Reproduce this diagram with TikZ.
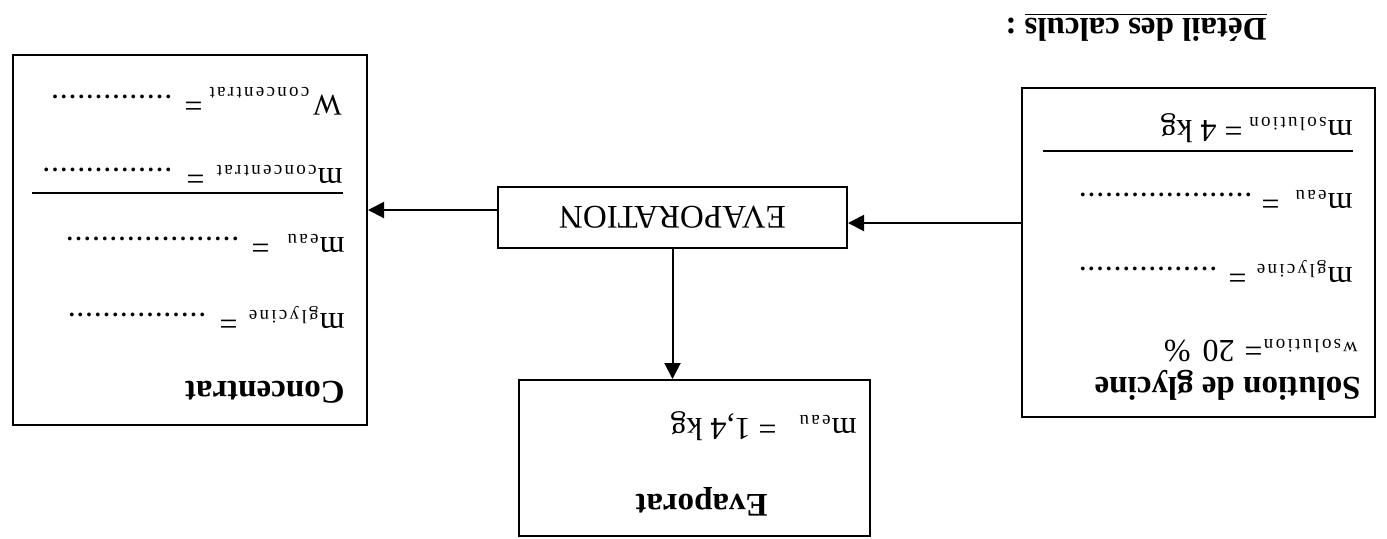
\documentclass[tikz,border=0pt]{standalone}
\usepackage{fontspec}
\setmainfont{Liberation Serif}
\usetikzlibrary{arrows.meta}
\newcommand\bodyf{\fontsize{16}{19}\selectfont}
\newcommand\headf{\fontsize{16.5}{20}\selectfont\bfseries}
\newcommand\subf[1]{{\fontsize{9.5}{11}\selectfont\addfontfeature{LetterSpace=12}#1}}
\newcommand\msub[2]{#1\hspace{0.6pt}\raisebox{-1.5pt}{\subf{#2}}}
\newcommand\dts[1]{\hbox to #1{\leaders\hbox to 4.35pt{\hss.\hss}\hfill}}
\begin{document}
\begin{tikzpicture}[x=0.5pt,y=-0.5pt,
  box/.style={draw, line width=1pt, inner sep=0pt},
  txt/.style={rotate=180, anchor=base west, inner sep=0pt, font=\bodyf},
  head/.style={rotate=180, anchor=base west, inner sep=0pt, font=\headf},
  arr/.style={line width=1pt, -{Triangle[length=8pt,width=8pt]}},
  rul/.style={line width=1pt}]
\useasboundingbox (0,0) rectangle (1387,538);
\fill[white] (0,0) rectangle (1387,538);
% boxes
\node[box, minimum width=176.5pt, minimum height=164.5pt] (sol) at (1198.5,252.5) {};
\node[box, minimum width=177pt, minimum height=185pt] (conc) at (190,240) {};
\node[box, minimum width=174.5pt, minimum height=30.5pt, font=\fontsize{16.5}{20}\selectfont] (evap) at (672.5,217.5) {\rotatebox{180}{EVAPORATION}};
\node[box, minimum width=175.5pt, minimum height=78pt] (evt) at (694.5,458) {};
% arrows
\draw[arr] ([yshift=14.75pt]sol.west) -- ([yshift=14.75pt]sol.west -| evap.east);
\draw[arr] ([yshift=3.75pt]evap.west) -- ([yshift=3.75pt]evap.west -| conc.east);
\draw[arr] (evap.south) -- (evap.south |- evt.north);
% header
\node[head] (det) at (1267,18) {\underline{Détail des calculs} :};
% solution box
\node[head] (solT) at (1361,377) {Solution de glycine};
\node[txt] (wsol) at (1358,342) {{\fontsize{10}{12}\selectfont w}\hspace{1pt}\raisebox{-1.5pt}{\subf{solution}}};
\node[txt] (wsolv) at (1263,340) {=\hspace{5pt}20\hspace{2pt} \%};
\node[txt] (mgly1) at (1353,267) {\msub{m}{glycine}};
\node[txt] (eq1) at (1247,267) {=};
\node[txt] (d1) at (1218,267) {\dts{70.5pt}};
\node[txt] (meau1) at (1353,193) {\msub{m}{eau}};
\node[txt] (eq2) at (1280,193) {=};
\node[txt] (d2) at (1253,193) {\dts{88pt}};
\draw[rul] (1043,151) -- (1353,151);
\node[txt] (msol) at (1353,120) {\msub{m}{solution}};
\node[txt] (msolv) at (1243,120) {= 4 kg};
% concentrat box
\node[head] (concT) at (345,381) {Concentrat};
\node[txt] (mgly2) at (345,313) {\msub{m}{glycine}};
\node[txt] (eq3) at (238,313) {=};
\node[txt] (d3) at (207,313) {\dts{70pt}};
\node[txt] (meau2) at (345,237) {\msub{m}{eau}};
\node[txt] (eq4) at (270,237) {=};
\node[txt] (d4) at (240,237) {\dts{90pt}};
\draw[rul] (32,193) -- (343,193);
\node[txt] (mconc) at (343,168) {\msub{m}{concentrat}};
\node[txt] (eq5) at (205,168) {=};
\node[txt] (d5) at (173,168) {\dts{68pt}};
\node[txt] (wconc) at (342,95) {{\fontsize{15}{18}\selectfont W}\hspace{2pt}\raisebox{-4pt}{\subf{concentrat}}};
\node[txt] (eq6) at (203,95) {=};
\node[txt] (d6) at (173,95) {\dts{61.5pt}};
% evaporat box
\node[txt] (meau3) at (857,418) {\msub{m}{eau}};
\node[txt] (meau3v) at (777,418) {= 1,4 kg};
\node[head] (evT) at (768,494) {Evaporat};
\end{tikzpicture}
\end{document}
